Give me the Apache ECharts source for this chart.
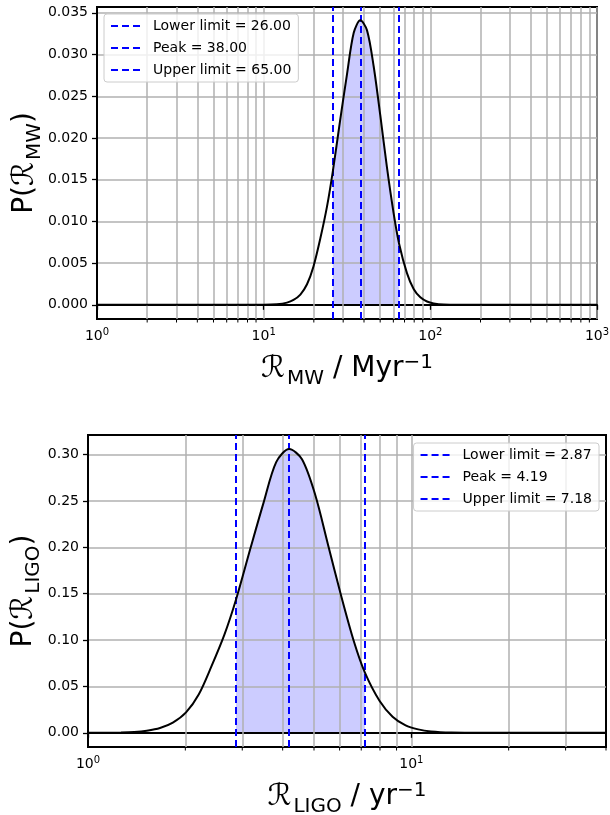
<!DOCTYPE html>
<html><head><meta charset="utf-8">
<script src="https://cdn.jsdelivr.net/npm/echarts@6/dist/echarts.min.js"></script>
<style>html,body{margin:0;padding:0;background:#fff}#c{width:610px;height:815px}</style>
</head><body><div id="c"></div>
<script>
// ---- Top panel: Milky Way rate ----
const mwR = [1, 5, 10, 12, 13.8, 15.1, 16.6, 18.2, 19.9, 21.9, 24.0, 26, 28.8, 31.6, 34.7, 38, 41.7, 45.7, 50.1, 54.9, 60.2, 65, 72.4, 79.4, 87.1, 95.5, 104.7, 120.2, 150, 300, 1000];
const mwP = [0, 0, 0.00001, 0.00007, 0.00026, 0.00058, 0.00123, 0.00246, 0.0046, 0.0080, 0.0118, 0.0160, 0.0222, 0.0276, 0.0326, 0.0341, 0.0329, 0.0286, 0.0227, 0.0165, 0.0110, 0.0073, 0.0038, 0.0019, 0.0009, 0.0004, 0.00017, 0.00003, 0, 0, 0];
const mwLimits = [26, 38, 65];
const mwLimitNames = ['Lower limit = 26.00', 'Peak = 38.00', 'Upper limit = 65.00'];
const mwYTicks = [0, 0.005, 0.010, 0.015, 0.020, 0.025, 0.030, 0.035];
const mwXTicks = [1, 10, 100, 1000];
const mwXMinor = [2,3,4,5,6,7,8,9,20,30,40,50,60,70,80,90,200,300,400,500,600,700,800,900];

// ---- Bottom panel: LIGO rate ----
const ligoR = [1, 1.05, 1.265, 1.39, 1.52, 1.67, 1.83, 2.01, 2.20, 2.41, 2.64, 2.87, 3.18, 3.49, 3.82, 4.19, 4.59, 5.04, 5.52, 6.06, 6.64, 7.18, 7.98, 8.75, 9.60, 10.5, 11.5, 13.3, 16.7, 40];
const ligoP = [0.00005, 0.0001, 0.00037, 0.0009, 0.0023, 0.0052, 0.0110, 0.0220, 0.0413, 0.0719, 0.1056, 0.1438, 0.199, 0.248, 0.292, 0.306, 0.295, 0.257, 0.2035, 0.1484, 0.0988, 0.0652, 0.0343, 0.0174, 0.0080, 0.0037, 0.0015, 0.0003, 0, 0];
const ligoLimits = [2.87, 4.19, 7.18];
const ligoLimitNames = ['Lower limit = 2.87', 'Peak = 4.19', 'Upper limit = 7.18'];
const ligoYTicks = [0, 0.05, 0.10, 0.15, 0.20, 0.25, 0.30];
const ligoXTicks = [1, 10];
const ligoXMinor = [2,3,4,5,6,7,8,9,20,30,40];

const FONT = 'DejaVu Sans';
const GRID_C = '#b0b0b0';

const panels = [
  {R: mwR, P: mwP, lim: mwLimits, names: mwLimitNames, yt: mwYTicks, xt: mwXTicks, minor: mwXMinor,
   xmin: 1, xmax: 1000, ymin: -0.0017, ymax: 0.0357, dec: 3,
   grid: {left: 97, top: 7, width: 500, height: 312},
   legend: {left: 104, top: 14},
   yname: '{a|P(}{r|ℛ}{s|MW}{a|)}', xname: '{r|ℛ}{s|MW}{a| / Myr}{p|−1}', ygap: 52},
  {R: ligoR, P: ligoP, lim: ligoLimits, names: ligoLimitNames, yt: ligoYTicks, xt: ligoXTicks, minor: ligoXMinor,
   xmin: 1, xmax: 40, ymin: -0.0153, ymax: 0.3212, dec: 2,
   grid: {left: 88, top: 435, width: 518, height: 312},
   legend: {right: 11, top: 443},
   yname: '{a|P(}{r|ℛ}{s|LIGO}{a|)}', xname: '{r|ℛ}{s|LIGO}{a| / yr}{p|−1}', ygap: 44}
];

const nameRich = {
  a: {fontSize: 28, fontFamily: FONT, color: '#000'},
  r: {fontSize: 30, fontFamily: FONT, color: '#000', padding: [0, 2, 0, 0]},
  s: {fontSize: 20, fontFamily: FONT, color: '#000', padding: [20, 0, 0, 0]},
  p: {fontSize: 20, fontFamily: FONT, color: '#000', padding: [0, 0, 13, 0]}
};

const option = {
  animation: false,
  backgroundColor: '#fff',
  grid: [], xAxis: [], yAxis: [], legend: [], series: []
};

panels.forEach((pn, i) => {
  option.grid.push(Object.assign({show: true, borderColor: '#000', borderWidth: 2, backgroundColor: 'transparent',
    z: 0, containLabel: false, outerBoundsMode: 'none'}, pn.grid));
  option.xAxis.push({
    type: 'log', logBase: 10, gridIndex: i, min: pn.xmin, max: pn.xmax, z: 3,
    name: pn.xname, nameLocation: 'middle', nameGap: 30, nameMoveOverlap: false,
    nameTextStyle: {rich: nameRich},
    axisLine: {show: true, lineStyle: {color: '#000', width: 2}},
    axisTick: {show: true, length: 5, lineStyle: {color: '#000', width: 1.3}, customValues: pn.xt},
    axisLabel: {
      margin: 8, customValues: pn.xt, hideOverlap: false,
      formatter: function (v) {
        const l = Math.log10(v), e = Math.round(l);
        if (Math.abs(l - e) > 1e-6) return '';
        return '{b|10}{u|' + e + '}';
      },
      rich: {
        b: {fontSize: 14, fontFamily: FONT, color: '#000'},
        u: {fontSize: 10, fontFamily: FONT, color: '#000', padding: [0, 0, 8, 0]}
      }
    },
    splitLine: {show: true, lineStyle: {color: GRID_C, width: 1.5}},
    minorTick: {show: false}, minorSplitLine: {show: false}
  });
  option.yAxis.push({
    type: 'value', gridIndex: i, min: pn.ymin, max: pn.ymax, splitNumber: i === 0 ? 8 : 7, z: 3,
    name: pn.yname, nameLocation: 'middle', nameGap: pn.ygap, nameRotate: 90, nameMoveOverlap: false,
    nameTextStyle: {rich: nameRich},
    axisLine: {show: true, lineStyle: {color: '#000', width: 2}},
    axisTick: {show: true, length: 5, lineStyle: {color: '#000', width: 1.3}, customValues: pn.yt},
    axisLabel: {margin: 9, fontSize: 14, fontFamily: FONT, color: '#000', customValues: pn.yt,
      formatter: v => v.toFixed(pn.dec)},
    splitLine: {show: true, lineStyle: {color: GRID_C, width: 1.5}}
  });
  option.legend.push(Object.assign({
    orient: 'vertical', data: pn.names, itemWidth: 31, itemHeight: 14, itemGap: 8,
    padding: [5, 7, 5, 6], backgroundColor: 'rgba(255,255,255,0.8)', borderColor: '#cccccc',
    borderWidth: 1, borderRadius: 3, z: 10, selectedMode: false,
    itemStyle: {opacity: 0},
    lineStyle: {color: '#0000ff', width: 2, type: [7, 4]},
    textStyle: {fontSize: 14, fontFamily: FONT, color: '#000', padding: [0, 0, 0, 6]}
  }, pn.legend));

  const pts = pn.R.map((r, k) => [r, pn.P[k]]);
  const lo = pn.lim[0], hi = pn.lim[2];
  const fillPts = pts.filter(p => p[0] >= lo - 1e-9 && p[0] <= hi + 1e-9);

  // minor vertical grid lines
  option.series.push({
    type: 'line', xAxisIndex: i, yAxisIndex: i, data: [], silent: true, z: 3,
    markLine: {silent: true, symbol: ['none', 'none'], label: {show: false},
      lineStyle: {color: GRID_C, width: 1.5, type: 'solid'},
      data: pn.minor.filter(v => v < pn.xmax).map(v => ({xAxis: v}))}
  });
  // minor ticks below the x axis
  option.series.push({
    type: 'custom', xAxisIndex: i, yAxisIndex: i, clip: false, silent: true, z: 4,
    data: pn.minor.map(v => [v, pn.ymin]),
    renderItem: function (params, api) {
      const p = api.coord([api.value(0), api.value(1)]);
      return {type: 'line', shape: {x1: p[0], y1: p[1], x2: p[0], y2: p[1] + 3.5},
        style: {stroke: '#000', lineWidth: 1}};
    }
  });
  // shaded credible region
  option.series.push({
    type: 'line', xAxisIndex: i, yAxisIndex: i, data: fillPts, symbol: 'none', smooth: 0.3, z: 1,
    lineStyle: {width: 0}, areaStyle: {color: '#ccccff', opacity: 1}, silent: true
  });
  // PDF curve
  option.series.push({
    type: 'line', xAxisIndex: i, yAxisIndex: i, data: pts, symbol: 'none', smooth: 0.3, z: 5,
    lineStyle: {color: '#000', width: 2}, silent: true
  });
  // limit lines
  pn.lim.forEach((v, k) => {
    option.series.push({
      name: pn.names[k], type: 'line', xAxisIndex: i, yAxisIndex: i, data: [], symbol: 'none', z: 6,
      itemStyle: {color: '#0000ff'},
      lineStyle: {color: '#0000ff', width: 2, type: [7, 4]}, silent: true,
      markLine: {silent: true, symbol: ['none', 'none'], label: {show: false},
        lineStyle: {color: '#0000ff', width: 2, type: [7, 4]}, data: [{xAxis: v}]}
    });
  });
});

const chart = echarts.init(document.getElementById('c'), null, {renderer: 'canvas'});
chart.setOption(option);
</script>
</body></html>
